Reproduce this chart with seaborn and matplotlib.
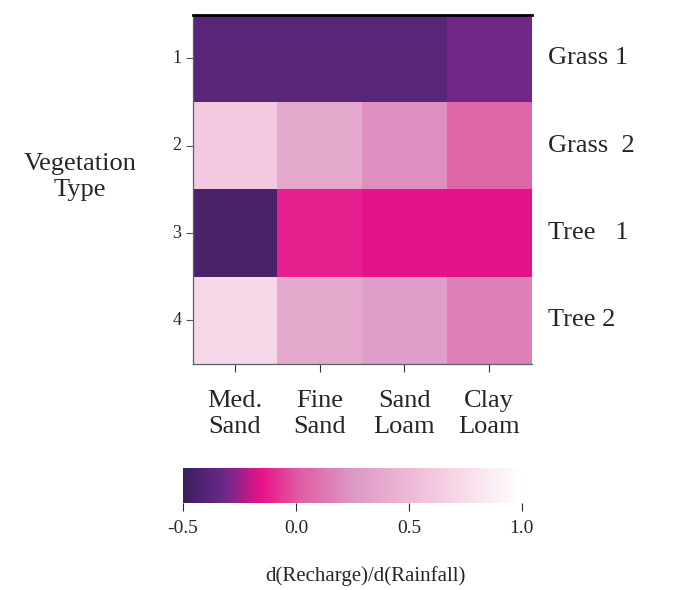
import numpy as np
import pandas as pd
import seaborn as sns
import matplotlib.pyplot as plt
from matplotlib.colors import LinearSegmentedColormap

# soil types along the bottom, vegetation rows
soils = ["Med.\nSand", "Fine\nSand", "Sand\nLoam", "Clay\nLoam"]
row_ticks = ["1", "2", "3", "4"]
veg_names = ["Grass 1", "Grass  2", "Tree   1", "Tree 2"]

# d(Recharge)/d(Rainfall)
grass1 = [-0.38, -0.38, -0.38, -0.31]
grass2 = [0.62, 0.37, 0.22, 0.06]
tree1 = [-0.44, -0.12, -0.16, -0.16]
tree2 = [0.72, 0.38, 0.30, 0.16]

cbar_ticks = [-0.5, 0.0, 0.5, 1.0]

data = pd.DataFrame([grass1, grass2, tree1, tree2], index=row_ticks, columns=soils)

cmap = LinearSegmentedColormap.from_list(
    "recharge",
    [(0.0, "#3a1f5c"), (0.12, "#6a2888"), (0.23, "#e8128a"),
     (0.34, "#e05aa2"), (0.50, "#dc98c4"), (0.72, "#f3c3dc"), (1.0, "#ffffff")])

sns.set_style("white")
plt.rcParams["font.family"] = ["Liberation Serif", "DejaVu Serif"]

fig = plt.figure(figsize=(6.93, 5.90), dpi=100)
ax = fig.add_axes([0.278, 0.383, 0.489, 0.592])
cax = fig.add_axes([0.264, 0.147, 0.489, 0.059])

sns.heatmap(data, ax=ax, cmap=cmap, vmin=-0.5, vmax=1.0, cbar_ax=cax,
            cbar_kws={"orientation": "horizontal", "ticks": cbar_ticks})

ax.set_xlabel("")
ax.set_ylabel("")
ax.set_yticklabels(row_ticks, rotation=0, fontsize=13)
ax.set_xticklabels(soils, rotation=0, fontsize=19, linespacing=1.22)
ax.tick_params(axis="y", left=True, length=5, width=0.8, color="#555555", pad=3)
ax.tick_params(axis="x", bottom=True, length=6, width=0.8, color="#333333", pad=13)

for side, sp in ax.spines.items():
    sp.set_visible(True)
    sp.set_color("#556070")
    sp.set_linewidth(0.9)
ax.spines["top"].set_color("black")
ax.spines["top"].set_linewidth(2)
ax.spines["right"].set_visible(False)

for i, name in enumerate(veg_names):
    ax.text(1.05, i + 0.5, name, transform=ax.get_yaxis_transform(),
            ha="left", va="center", fontsize=19)

fig.text(0.115, 0.700, "Vegetation\nType", ha="center", va="center",
         fontsize=19, linespacing=1.2)

cax.tick_params(axis="x", bottom=True, length=6, width=0.8, labelsize=14, pad=6)
cax.set_xticklabels(["-0.5", "0.0", "0.5", "1.0"])
cax.set_xlabel("")
for sp in cax.spines.values():
    sp.set_visible(False)

fig.text(0.528, 0.024, "d(Recharge)/d(Rainfall)", ha="center", va="center",
         fontsize=15)

fig.savefig("out.png", dpi=100)
